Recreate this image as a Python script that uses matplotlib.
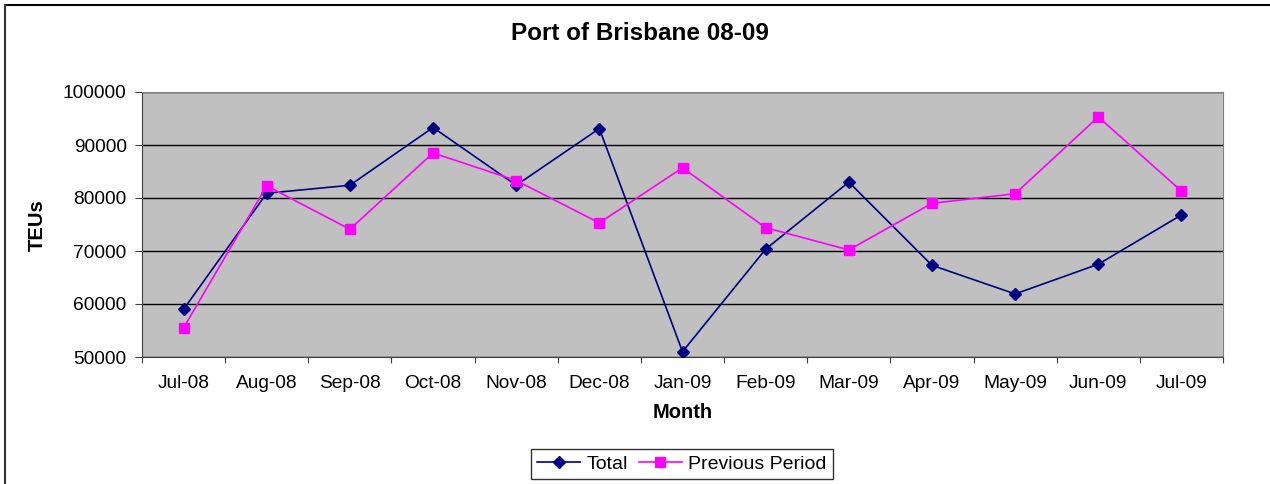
import matplotlib
matplotlib.use("Agg")
import matplotlib.pyplot as plt
from matplotlib.lines import Line2D

plt.rcParams['font.family'] = ['Liberation Sans', 'DejaVu Sans']

months = ["Jul-08", "Aug-08", "Sep-08", "Oct-08", "Nov-08", "Dec-08", "Jan-09",
          "Feb-09", "Mar-09", "Apr-09", "May-09", "Jun-09", "Jul-09"]
total = [59000, 80900, 82400, 93300, 82400, 93100, 51000,
         70350, 83000, 67300, 61900, 67500, 76800]
previous = [55500, 82300, 74100, 88500, 83300, 75300, 85700,
            74400, 70200, 79000, 80800, 95300, 81300]
yticks = [50000, 60000, 70000, 80000, 90000, 100000]

W, H = 1270, 484
fig = plt.figure(figsize=(W / 100, H / 100), dpi=100)
fig.patch.set_facecolor("white")
# outer frame: only top and left edges are visible in the reference
fig.add_artist(Line2D([4.5 / W, 1], [1 - 4.5 / H, 1 - 4.5 / H], transform=fig.transFigure,
                      color="black", linewidth=1.5))
fig.add_artist(Line2D([4.5 / W, 4.5 / W], [0, 1 - 4.5 / H], transform=fig.transFigure,
                      color="#333333", linewidth=1.5))

left, right, top, bottom = 142, 1223, 92, 357
ax = fig.add_axes([left / W, 1 - bottom / H, (right - left) / W, (bottom - top) / H])
ax.set_facecolor("#C0C0C0")

x = list(range(len(months)))
ax.plot(x, total, color="#000080", marker="D", markersize=6, linewidth=1.2, label="Total", zorder=3)
ax.plot(x, previous, color="#FF00FF", marker="s", markersize=7, linewidth=1.2,
        label="Previous Period", zorder=3)

ax.set_xlim(-0.5, len(months) - 0.5)
ax.set_ylim(50000, 100000)
ax.set_yticks(yticks)
ax.set_yticklabels([str(v) for v in yticks], fontsize=13.8)
ax.set_xticks([i - 0.5 for i in range(len(months) + 1)])
ax.set_xticklabels([])
ax.set_xticks(x, minor=True)
ax.set_xticklabels(months, minor=True, fontsize=13.8)
ax.tick_params(axis="x", which="minor", length=0, pad=13)
ax.tick_params(axis="x", which="major", length=4.5, direction="out", color="#404040")
ax.tick_params(axis="y", length=5, direction="out", color="#404040", pad=6)
ax.yaxis.grid(True, color="black", linewidth=1)
ax.set_axisbelow(True)
for s in ["top", "right"]:
    ax.spines[s].set_color("#808080")
for s in ["left", "bottom"]:
    ax.spines[s].set_color("#404040")

fig.text(640 / W, 1 - 34 / H, "Port of Brisbane 08-09", ha="center", va="center",
         fontsize=17.5, fontweight="bold")
fig.text((left + right) / 2 / W, 1 - 413 / H, "Month", ha="center", va="center",
         fontsize=14.5, fontweight="bold")
fig.text(37 / W, 1 - 225 / H, "TEUs", ha="center", va="center", rotation=90,
         fontsize=14.5, fontweight="bold")

leg = fig.legend(loc="center", bbox_to_anchor=(682 / W, 1 - 464 / H), ncol=2, fontsize=14,
                 frameon=True, fancybox=False, edgecolor="black", borderpad=0.3,
                 handlelength=2.2, handletextpad=0.35, columnspacing=0.55, borderaxespad=0)
leg.get_frame().set_linewidth(1)

fig.savefig("out.png", dpi=100)
